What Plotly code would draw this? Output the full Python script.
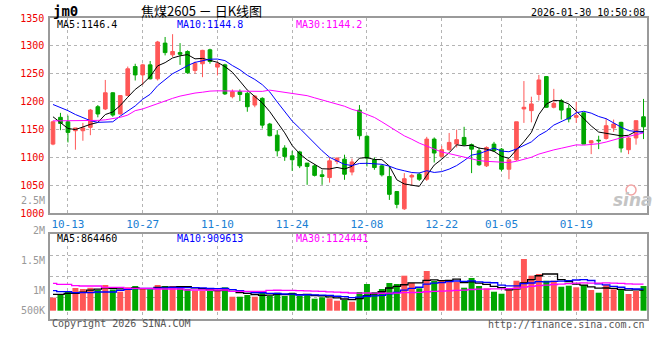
import pandas as pd
import plotly.graph_objects as go

# ---------------- data ----------------
dates = ["10-09","10-10","10-13","10-14","10-15","10-16","10-17","10-20","10-21","10-22",
         "10-23","10-24","10-27","10-28","10-29","10-30","10-31","11-03","11-04","11-05",
         "11-06","11-07","11-10","11-11","11-12","11-13","11-14","11-17","11-18","11-19",
         "11-20","11-21","11-24","11-25","11-26","11-27","11-28","12-01","12-02","12-03",
         "12-04","12-05","12-08","12-09","12-10","12-11","12-12","12-15","12-16","12-17",
         "12-18","12-19","12-22","12-23","12-24","12-25","12-26","12-29","12-30","12-31",
         "01-05","01-06","01-07","01-08","01-09","01-12","01-13","01-14","01-15","01-16",
         "01-19","01-20","01-21","01-22","01-23","01-26","01-27","01-28","01-29","01-30"]

opens = [1124,1172,1164,1148,1148,1154,1191,1187,1216,1178,
         1211,1263,1248,1266,1241,1305,1284,1288,1290,1256,
         1268,1293,1262,1266,1209,1218,1215,1194,1206,1160,
         1140,1117,1103,1110,1090,1085,1069,1064,1093,1097,
         1074,1185,1138,1096,1085,1066,1039,1008,1065,1070,
         1061,1133,1102,1114,1124,1136,1123,1112,1085,1124,
         1115,1079,1096,1187,1184,1213,1245,1190,1202,1188,
         1172,1180,1126,1131,1134,1153,1163,1114,1135,1173]
highs = [1166,1180,1175,1153,1162,1187,1194,1239,1217,1212,
         1263,1268,1268,1273,1309,1316,1321,1305,1292,1272,
         1293,1295,1272,1268,1222,1222,1218,1212,1208,1162,
         1149,1122,1112,1112,1090,1088,1078,1100,1100,1105,
         1098,1194,1140,1100,1088,1084,1040,1072,1071,1073,
         1137,1136,1121,1144,1150,1155,1125,1118,1120,1128,
         1117,1096,1164,1237,1209,1248,1246,1223,1205,1195,
         1200,1181,1131,1139,1170,1168,1164,1137,1166,1205]
lows = [1122,1149,1127,1114,1130,1140,1172,1185,1173,1177,
        1210,1238,1230,1240,1238,1283,1280,1266,1250,1250,
        1244,1268,1247,1212,1206,1201,1182,1190,1152,1138,
        1102,1094,1076,1081,1051,1066,1051,1055,1088,1060,
        1068,1132,1084,1078,1066,1024,1009,1006,1050,1058,
        1058,1091,1100,1112,1118,1121,1072,1085,1083,1110,
        1075,1061,1094,1162,1163,1202,1189,1188,1168,1163,
        1162,1124,1106,1115,1132,1146,1109,1106,1123,1133]
closes = [1164,1161,1145,1153,1153,1185,1178,1216,1176,1211,
          1259,1248,1266,1241,1307,1288,1290,1285,1252,1269,
          1292,1272,1268,1214,1218,1213,1191,1210,1158,1139,
          1112,1102,1096,1085,1084,1068,1066,1094,1099,1070,
          1092,1139,1099,1082,1069,1034,1016,1062,1068,1061,
          1133,1108,1114,1127,1132,1123,1115,1087,1118,1112,
          1079,1096,1164,1190,1196,1239,1190,1197,1185,1169,
          1175,1124,1130,1130,1157,1160,1117,1135,1166,1155]

# volume, thousands of lots
volume_k = [550,676,815,954,912,962,870,1080,891,798,
            983,1038,912,891,1080,1038,1038,983,912,840,
            840,828,828,983,588,588,660,588,798,618,
            756,618,756,618,702,504,563,521,420,450,
            378,786,1122,786,912,1164,1122,1471,1164,941,
            1668,1248,1290,1206,1206,966,1374,1038,941,798,
            714,899,1261,2172,1471,1542,1261,1261,1008,1050,
            983,1080,870,756,1080,899,870,702,828,1038]

# moving-average values visible at the left edge (history before the first candle)
ma5_lead = [1173, 1163, 1152, 1150]
ma10_lead = [1195, 1190, 1184, 1177, 1171, 1166, 1163, 1163, 1164]
ma30_lead = [1165.6, 1165.6, 1165.6, 1166, 1166, 1166, 1166.5, 1167.5, 1169.5, 1172,
             1176, 1184, 1187, 1192, 1196.5, 1201, 1206, 1210, 1213, 1215.5,
             1217, 1219, 1219.5, 1219.5, 1219.5, 1219.5, 1219, 1219, 1218.5]
vma5_lead_k = [690, 690, 731, 731]
vma10_lead_k = [840, 800, 800, 756, 756, 756, 786, 786, 786]
vma30_lead_k = [1151, 1110, 1110, 1050, 1038, 1038, 1038, 983, 983, 983,
                941, 941, 941, 941, 912, 912, 912, 912, 870, 870,
                870, 870, 870, 870, 815, 815, 815, 815, 815]

price_ma_legend = [("MA5", "1146.4"), ("MA10", "1144.8"), ("MA30", "1144.2")]
vol_ma_legend = [("MA5", "864460"), ("MA10", "909613"), ("MA30", "1124441")]

date_ticks = ["10-13", "10-27", "11-10", "11-24", "12-08", "12-22", "01-05", "01-19"]
price_ticks = [1000, 1050, 1100, 1150, 1200, 1250, 1300, 1350]
vol_tick_labels = ["2.5M", "2M", "1.5M", "1M", "500K"]

# ---------------- styling / layout constants ----------------
RED = "#ff5757"
GREEN = "#00a600"
MA_COLORS = ["#000000", "#0000ff", "#ff00ff"]
MONO = "DejaVu Sans Mono"
GRID = "#b4b4b4"
BORDER = "#9a9a9a"

W, H = 660, 360
ML, MR, MT, MB = 50, 11, 18, 41
PW, PH = W - ML - MR, H - MT - MB


def px_x(px):
    return (px - ML) / PW


def px_y(py):
    return (H - MB - py) / PH


MAIN_BOTTOM_PX = 213.3
VOL_TOP_PX = 234.3
VOL_BASE_PX = 310.7
VOL_PX_PER_UNIT = 23.8 / 1e6
vol_lo = -((H - MB) - VOL_BASE_PX) / VOL_PX_PER_UNIT
vol_hi = (VOL_BASE_PX - VOL_TOP_PX) / VOL_PX_PER_UNIT

x = list(range(len(dates)))
vols = [v * 1000 for v in volume_k]


def moving_average(values, n, lead):
    s = pd.Series(values, dtype=float).rolling(n).mean()
    s.iloc[:len(lead)] = lead
    return s.tolist()


ma5 = moving_average(closes, 5, ma5_lead)
ma10 = moving_average(closes, 10, ma10_lead)
ma30 = moving_average(closes, 30, ma30_lead)
vma5 = moving_average(vols, 5, [v * 1000 for v in vma5_lead_k])
vma10 = moving_average(vols, 10, [v * 1000 for v in vma10_lead_k])
vma30 = moving_average(vols, 30, [v * 1000 for v in vma30_lead_k])

bar_colors = [RED if c >= o else GREEN for o, c in zip(opens, closes)]

fig = go.Figure()
fig.add_trace(go.Candlestick(
    x=x, open=opens, high=highs, low=lows, close=closes,
    increasing=dict(line=dict(color=RED, width=1), fillcolor=RED),
    decreasing=dict(line=dict(color=GREEN, width=1), fillcolor=GREEN),
    whiskerwidth=0, hovertext=dates, xaxis="x", yaxis="y", showlegend=False))
for vals, col in zip([ma5, ma10, ma30], MA_COLORS):
    fig.add_trace(go.Scatter(x=x, y=vals, mode="lines", line=dict(color=col, width=1),
                             xaxis="x", yaxis="y", hoverinfo="skip", showlegend=False))

fig.add_trace(go.Bar(x=x, y=vols, width=0.8, marker=dict(color=bar_colors, line=dict(width=0)),
                     xaxis="x2", yaxis="y2", hovertext=dates, showlegend=False))
for vals, col in zip([vma5, vma10, vma30], MA_COLORS):
    fig.add_trace(go.Scatter(x=x, y=vals, mode="lines", line=dict(color=col, width=1.3, shape="hvh"),
                             xaxis="x2", yaxis="y2", hoverinfo="skip", showlegend=False))

tickvals_x = [dates.index(t) for t in date_ticks]
x_range = [-0.4, -0.4 + PW / 7.5]

common_x = dict(range=x_range, tickvals=tickvals_x, showgrid=True, gridcolor=GRID, griddash="dot",
                gridwidth=1, showline=True, mirror=True, linecolor=BORDER, linewidth=1.5,
                zeroline=False, ticks="", fixedrange=True)

fig.update_layout(
    width=W, height=H, margin=dict(l=ML, r=MR, t=MT, b=MB, pad=0),
    paper_bgcolor="white", plot_bgcolor="white", showlegend=False, boxgap=0.3,
    xaxis=dict(common_x, domain=[0, 1], anchor="y", ticktext=date_ticks,
               tickfont=dict(family=MONO, size=11, color="#1a7fd4"),
               rangeslider=dict(visible=False)),
    yaxis=dict(domain=[px_y(MAIN_BOTTOM_PX), 1], range=[1000, 1350], tickvals=price_ticks,
               tickfont=dict(family=MONO, size=10, color="#ee0000"),
               showgrid=True, gridcolor=GRID, griddash="dot", showline=True, mirror=True,
               linecolor=BORDER, linewidth=1.5, zeroline=False, ticks="outside", ticklen=2,
               tickcolor="rgba(0,0,0,0)", anchor="x"),
    xaxis2=dict(common_x, domain=[0, 1], anchor="y2", matches="x", showticklabels=False),
    yaxis2=dict(domain=[0, px_y(VOL_TOP_PX)], range=[vol_lo, vol_hi],
                tickvals=[vol_lo + (vol_hi - vol_lo) * k / 4 for k in (1, 2, 3)],
                showticklabels=False, showgrid=True, gridcolor=GRID, griddash="dot",
                showline=True, mirror=True, linecolor=BORDER, linewidth=1.5,
                zeroline=False, ticks="", anchor="x2"),
)

ann = []


def text(s, px, py, color="#000", size=10, family=MONO, xanchor="left", **kw):
    ann.append(dict(text=s, x=px_x(px), y=px_y(py), xref="paper", yref="paper",
                    xanchor=xanchor, yanchor="middle", showarrow=False,
                    font=dict(family=family, size=size, color=color, **kw)))


text("jm0", 51, 11, size=14, weight="bold")
text("焦煤2605 － 日K线图", 139, 10, size=13, family="Noto Sans CJK SC")
text("2026-01-30 10:50:08", 649, 12, xanchor="right")
for (name, val), col, px in zip(price_ma_legend, MA_COLORS, [55, 175, 295]):
    text(f"{name}:{val}", px, 24.5, color=col)
for (name, val), col, px in zip(vol_ma_legend, MA_COLORS, [55, 175, 295]):
    text(f"{name}:{val}", px, 238.7, color=col)
for lab, py in zip(vol_tick_labels, [200, 230.7, 260.7, 290.7, 310.7]):
    text(lab, 47, py, color="#999999", xanchor="right")
text("Copyright 2026 SINA.COM", 50, 323.3, color="#555555")
text("http://finance.sina.com.cn", 649, 324, color="#555555", xanchor="right")
text("sina", 635, 200, color="#c4c4c4", size=17, family="DejaVu Sans", xanchor="center",
     style="italic", weight="bold")
fig.update_layout(annotations=ann)
fig.add_shape(type="circle", xref="paper", yref="paper",
              x0=px_x(628), x1=px_x(638), y0=px_y(195), y1=px_y(185),
              line=dict(color="#f2a4a4", width=1.5))

fig.write_html("out.html", config={"displayModeBar": False},
               post_script="document.body.style.margin='0';")
